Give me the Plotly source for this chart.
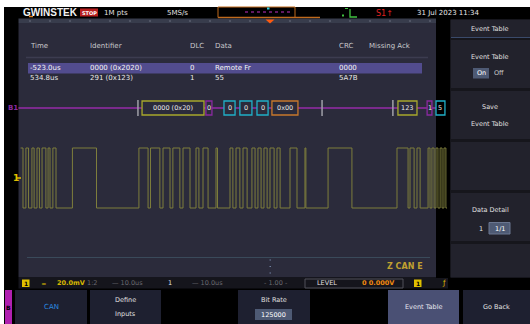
import plotly.graph_objects as go

# ---------------- data ----------------
# CH1 digital (CAN) waveform: edge times in microseconds (relative to trigger) and level after each edge
edge_times_us = [-1035, -1025, -1013, -1002, -988, -979, -967, -957, -946, -930, -921, -913, -901, -888,
                 -820, -720, -544, -506, -496, -457, -444, -415, -403, -374, -361, -332, -307, -295,
                 -278, -257, -224, -218, -166, -154, -141, -125, -112, -95, -75, -62, -50, -37, -25,
                 -12, 0, 17, 29, 42, 83, 112, 145, 149, 241, 340, 527, 573, 581, 598, 610, 623, 656,
                 664, 672, 681, 689, 697, 706, 714, 722, 730, 735]
edge_levels = [1, 0, 1, 0, 1, 0, 1, 0, 1, 0, 1, 0, 1, 0,
               1, 0, 1, 0, 1, 0, 1, 0, 1, 0, 1, 0, 1, 0,
               1, 0, 1, 0, 1, 0, 1, 0, 1, 0, 1, 0, 1, 0, 1,
               0, 1, 0, 1, 0, 1, 0, 1, 0, 1, 0, 1, 0, 1, 0, 1, 0, 1,
               0, 1, 0, 1, 0, 1, 0, 1, 0, 0]

# decoded bus fields: start (us), end (us), label, field type
field_start_us = [-531, -266, -191, -125, -54, 8, 531, 652, 689]
field_end_us = [-274, -241, -145, -75, -8, 116, 610, 672, 726]
field_labels = ["0000 (0x20)", "0", "0", "0", "0", "0x00", "123", "1", "5"]
field_types = ["id", "dlc", "data", "data", "data", "crc", "id", "dlc", "data"]
frame_marks_us = [-548, 216, 510]

# event table
table_headers = ["Time", "Identifier", "DLC", "Data", "CRC", "Missing Ack"]
table_row1 = ["-523.0us", "0000 (0x2020)", "0", "Remote Fr", "0000", ""]
table_row2 = ["534.8us", "291 (0x123)", "1", "55", "5A7B", ""]

# ---------------- layout constants ----------------
W, H = 530, 324
US_PER_PX, TRIG_PX = 4.15, 270
GRID_L, GRID_R, WAVE_R = 18.5, 436, 447
HIGH_PX, LOW_PX = 148, 208
BUS_PX = 108
FONT = "DejaVu Sans"
NAVY = "#2b2b3b"

shapes, anns = [], []


def rect(x0, y0, x1, y1, fill=None, line=None, lw=1, xref="x", yref="y", layer="below"):
    shapes.append(dict(type="rect", xref=xref, yref=yref, x0=x0, y0=y0, x1=x1, y1=y1,
                       fillcolor=fill or "rgba(0,0,0,0)",
                       line=dict(color=line or "rgba(0,0,0,0)", width=lw if line else 0),
                       layer=layer))


def seg(x0, y0, x1, y1, color, lw=1, dash=None, xref="x", yref="y", layer="below"):
    shapes.append(dict(type="line", xref=xref, yref=yref, x0=x0, y0=y0, x1=x1, y1=y1,
                       line=dict(color=color, width=lw, dash=dash), layer=layer))


def text(x, y, s, color="#dcdcdc", size=7, xanchor="left", bold=False, family=FONT, xref="x"):
    anns.append(dict(x=x, y=y, xref=xref, yref="y", text=("<b>%s</b>" % s) if bold else s,
                     showarrow=False, xanchor=xanchor, yanchor="middle",
                     font=dict(family=family, size=size, color=color)))


# white outer border of the screenshot
rect(0, 0, W, 7, fill="#ffffff")
rect(0, 0, 4, H, fill="#ffffff")
# screen black
rect(4, 7, W, H, fill="#000000")

# ---- top bar ----
text(21, 12.5, "GWINSTEK", "#f2f2f2", 10, bold=True, family="Liberation Sans")
seg(29, 16.5, 33, 16.5, "#e08020", 1.5)
rect(80, 8.5, 98, 16.5, fill="#b81e1e")
text(89, 12.5, "STOP", "#ffffff", 5, xanchor="center", bold=True)
text(102, 12.5, "1M pts", "#e0e0e0", 7)
text(165, 12.5, "5MS/s", "#e0e0e0", 7)
rect(218, 7, 295, 17.5, line="#c06a1c", lw=1)
seg(245, 12, 293, 12, "#c030c0", 1, dash="dot")
rect(267, 7.5, 269.5, 9.5, fill="#30d0e0")
seg(218, 17.5, 320, 17.5, "#c06a1c", 1.5)
shapes.append(dict(type="path", xref="x", yref="y", path="M 265.5 19.5 L 274.5 19.5 L 270 23.5 Z",
                   fillcolor="#ff5a10", line=dict(width=0), layer="above"))
# trigger edge icon
shapes.append(dict(type="path", xref="x", yref="y", path="M 350 9 L 350 17 L 357 17",
                   line=dict(color="#40c040", width=1.3), layer="below"))
seg(345, 8.5, 349, 8.5, "#40c040", 1, dash="dot")
rect(342, 14.5, 344, 16.5, fill="#40c040")
text(374, 13, "S1↑", "#e02020", 8)
text(415, 12.5, "31 Jul 2023 11:34", "#e8e8e8", 7)

# ---- main display panel ----
rect(GRID_L, 18.5, GRID_R, 23, fill="#383c4c")
for k in range(21):
    rect(29.5 + 20 * k, 20.5, 30.5 + 20 * k, 21.5, fill="#9aa0b0")
rect(GRID_L, 23, GRID_R, 277.5, fill=NAVY)

# event table
col_x = [28, 88, 188, 213, 337, 367]
for cx, h in zip(col_x, table_headers):
    text(cx, 46, h, "#c8c8cc", 7)
seg(26, 57.5, 428, 57.5, "#3c3c50", 1.5)
rect(28, 63, 422, 73.5, fill="#524c8e")
for cx, v in zip(col_x, table_row1):
    text(cx, 68.3, v, "#f4f4f4", 7)
for cx, v in zip(col_x, table_row2):
    text(cx, 77.5, v, "#e8e8e8", 7)

# bus decode line
text(6, BUS_PX, "B1", "#8a2aa0", 7, bold=True)
seg(GRID_L, BUS_PX, GRID_R, BUS_PX, "#7a2a8c", 2.2)

# channel 1 marker
text(11, 178, "1", "#e0c000", 9, bold=True)
seg(17, 178, 21, 178, "#e0c000", 1.5)

# centre-line and dots near bottom
seg(27, 257.5, 430, 257.5, "#3a4a5a", 1)
for yy in (260, 266.5, 273):
    rect(269.5, yy - 0.6, 271, yy + 0.6, fill="#7080a0")
text(425, 266, "Z CAN E", "#c0a030", 8, xanchor="right", bold=True)

# ---- right side menu ----
rect(450, 19.5, W, 277.5, fill="#16161c")
panel_boxes = [(19.5, 37), (40, 88), (91, 139), (142, 190), (193, 241), (244, 277.5)]
for y0, y1 in panel_boxes:
    rect(451, y0, W, y1, fill="#22222c")
seg(451, 37.5, W, 37.5, "#3a4a6a", 1.2)
text(490, 29, "Event Table", "#e0e0e0", 6.5, xanchor="center")
text(490, 57, "Event Table", "#e0e0e0", 6.5, xanchor="center")
rect(473, 68, 489, 78.5, fill="#4e5a74")
text(481, 73.3, "On", "#ffffff", 6.5, xanchor="center")
text(492, 73.3, "Off", "#c8c8c8", 6.5)
text(490, 107, "Save", "#e0e0e0", 6.5, xanchor="center")
text(490, 124, "Event Table", "#e0e0e0", 6.5, xanchor="center")
text(490, 210, "Data Detail", "#e0e0e0", 6.5, xanchor="center")
text(481, 228.5, "1", "#e0e0e0", 6.5, xanchor="center")
rect(489, 222.5, 510, 234, fill="#4e5a74", line="#6a7690", lw=1)
text(499.5, 228.5, "1/1", "#ffffff", 6.5, xanchor="center")

# ---- status bar ----
rect(18.5, 278, 448, 288.5, fill="#15151c")
rect(22, 279.5, 29.5, 287, fill="#e0c000")
text(25.8, 283.3, "1", "#000000", 6, xanchor="center", bold=True)
text(39, 283.3, "═", "#e0c000", 6)
text(55, 283.3, "20.0mV", "#d8b800", 6.5, bold=True)
text(85, 283.3, "1:2", "#6a6a70", 6.5)
text(110, 283.3, "— 10.0us", "#6a6a70", 6.5)
text(166, 283.3, "1", "#e0e0e0", 6.5)
text(190, 283.3, "— 10.0us", "#6a6a70", 6.5)
text(262, 283.3, "- 1.00 -", "#6a6a70", 6.5)
rect(305, 279, 403, 288, line="#505058", lw=1)
text(315, 283.3, "LEVEL", "#e0e0e0", 6.5)
text(360, 283.3, "0 0.000V", "#f08a10", 6.5, bold=True)
rect(414, 279.5, 421.5, 287, fill="#e0c000")
text(417.8, 283.3, "1", "#000000", 6, xanchor="center", bold=True)
text(440, 283.3, "ƒ", "#e0c000", 7)

# ---- bottom soft-key menu ----
rect(5, 290, 12, H, fill="#b020b0")
text(8.5, 307, "B", "#000000", 6, xanchor="center", bold=True)
menu_boxes = [(15, 87), (90, 161), (238, 310), (388, 459), (463, W)]
for x0, x1 in menu_boxes:
    rect(x0, 290, x1, H, fill="#1e2030")
rect(388, 290, 459, H, fill="#4a5074")
text(51, 307, "CAN", "#2a8ae0", 7, xanchor="center")
text(125, 300, "Define", "#e0e0e0", 6.5, xanchor="center")
text(125, 314, "Inputs", "#e0e0e0", 6.5, xanchor="center")
text(274, 300, "Bit Rate", "#e0e0e0", 6.5, xanchor="center")
rect(255, 309, 292, 320, fill="#4e5a74")
text(273.5, 314.5, "125000", "#ffffff", 6.5, xanchor="center")
text(423.5, 307, "Event Table", "#e8e8f0", 6.5, xanchor="center")
text(496.5, 307, "Go Back", "#e0e0e0", 6.5, xanchor="center")

# ---- decoded bus fields (on the time axis) ----
field_colors = {"id": "#a8a82c", "dlc": "#8a2aa0", "data": "#20b0c8", "crc": "#c8782c"}
for t in frame_marks_us:
    seg(t, BUS_PX - 8, t, BUS_PX + 8, "#a0a0a8", 1.5, xref="x2", yref="y", layer="above")
for t0, t1, lab, ft in zip(field_start_us, field_end_us, field_labels, field_types):
    rect(t0, BUS_PX - 7, t1, BUS_PX + 7, fill=NAVY if t1 < 680 else "#000000",
         line=field_colors[ft], lw=1.3, xref="x2", yref="y", layer="above")
    anns.append(dict(x=(t0 + t1) / 2, y=BUS_PX, xref="x2", yref="y", text=lab, showarrow=False,
                     font=dict(family=FONT, size=6.5, color="#e8e8e8"), xanchor="center",
                     yanchor="middle"))

# ---------------- figure ----------------
fig = go.Figure()
fig.add_trace(go.Scatter(x=edge_times_us, y=edge_levels, mode="lines", line_shape="hv",
                         line=dict(color="#7e7e3c", width=1), xaxis="x2", yaxis="y2",
                         hoverinfo="skip", showlegend=False))

x2_range = [(GRID_L + 0.5 - TRIG_PX) * US_PER_PX, (WAVE_R - TRIG_PX) * US_PER_PX]
# map level 1 -> HIGH_PX and level 0 -> LOW_PX (pixel rows from top)
f_hi, f_lo = 1 - HIGH_PX / H, 1 - LOW_PX / H
span = 1 / (f_hi - f_lo)
y2_range = [-f_lo * span, -f_lo * span + span]

fig.update_layout(
    width=W, height=H, autosize=False,
    margin=dict(l=0, r=0, t=0, b=0, pad=0),
    paper_bgcolor="#000000", plot_bgcolor="rgba(0,0,0,0)",
    xaxis=dict(range=[0, W], domain=[0, 1], visible=False, fixedrange=True),
    yaxis=dict(range=[H, 0], domain=[0, 1], visible=False, fixedrange=True),
    xaxis2=dict(range=x2_range, domain=[(GRID_L + 0.5) / W, WAVE_R / W], anchor="y2",
                visible=False, fixedrange=True),
    yaxis2=dict(range=y2_range, domain=[0, 1], anchor="x2", visible=False, fixedrange=True),
    shapes=shapes, annotations=anns, showlegend=False,
)

fig.write_html("out.html", config={"displayModeBar": False},
               post_script="document.body.style.margin='0px';document.body.style.overflow='hidden';")
